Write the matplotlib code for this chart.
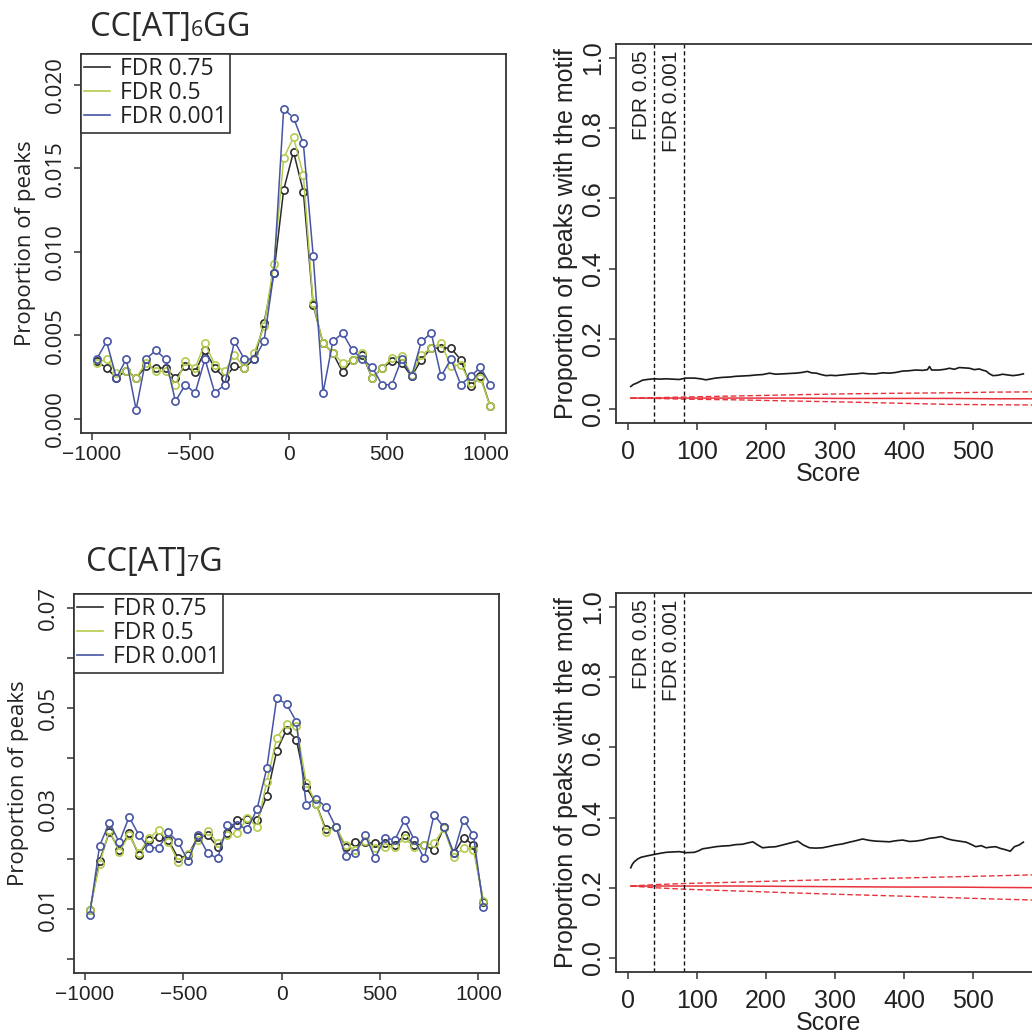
import matplotlib
matplotlib.use("Agg")
import matplotlib.pyplot as plt
import numpy as np
from matplotlib.ticker import FixedLocator, FixedFormatter

W, H = 1032, 1036

# bin centres of the peak-position profiles
positions = [-975, -925, -875, -825, -775, -725, -675, -625, -575, -525,
             -475, -425, -375, -325, -275, -225, -175, -125, -75, -25,
             25, 75, 125, 175, 225, 275, 325, 375, 425, 475,
             525, 575, 625, 675, 725, 775, 825, 875, 925, 975, 1025]

# CC[AT]6GG profiles
top_fdr075 = [0.00345, 0.00305, 0.00245, 0.0029, 0.00245, 0.00315, 0.00305, 0.00305, 0.00245, 0.00315,
              0.0028, 0.0041, 0.00305, 0.00245, 0.00315, 0.00305, 0.00359, 0.00574, 0.00872, 0.0137,
              0.016, 0.0136, 0.00683, 0.00454, 0.00394, 0.0028, 0.00355, 0.00384, 0.00245, 0.00305,
              0.00345, 0.00335, 0.00255, 0.00355, 0.00424, 0.00424, 0.00424, 0.00355, 0.00195, 0.00255, 0.00076]
top_fdr05 = [0.00335, 0.00359, 0.00275, 0.00285, 0.00245, 0.00335, 0.00285, 0.00285, 0.00205, 0.00345,
             0.00305, 0.00454, 0.00325, 0.00285, 0.00384, 0.00305, 0.00394, 0.00554, 0.00928, 0.0156,
             0.01685, 0.0146, 0.00693, 0.00454, 0.00394, 0.00335, 0.00355, 0.00394, 0.00245, 0.00305,
             0.00364, 0.00374, 0.00265, 0.00384, 0.00424, 0.00454, 0.00315, 0.00325, 0.00215, 0.00245, 0.00076]
top_fdr0001 = [0.00359, 0.00464, 0.00245, 0.00359, 0.00056, 0.00359, 0.0041, 0.00359, 0.00106, 0.00205,
               0.00155, 0.00359, 0.00155, 0.00205, 0.00464, 0.00359, 0.00359, 0.00464, 0.00872, 0.01855,
               0.01803, 0.0165, 0.00978, 0.00155, 0.00464, 0.00514, 0.0041, 0.00359, 0.00309, 0.00205,
               0.00205, 0.00359, 0.00255, 0.00464, 0.00514, 0.00255, 0.00359, 0.00205, 0.00255, 0.00309, 0.00205]

# CC[AT]7G profiles
bot_fdr075 = [0.00967, 0.0196, 0.02536, 0.02172, 0.02503, 0.02073, 0.02371, 0.02437, 0.02371, 0.02007,
              0.02073, 0.02437, 0.0247, 0.02238, 0.02503, 0.02768, 0.02801, 0.02768, 0.03252, 0.04146,
              0.04576, 0.04377, 0.0343, 0.03099, 0.02583, 0.02636, 0.02238, 0.02325, 0.02325, 0.02305,
              0.02305, 0.02272, 0.0247, 0.02272, 0.02272, 0.02172, 0.02623, 0.02106, 0.02417, 0.02272, 0.01146]
bot_fdr05 = [0.00967, 0.01894, 0.0257, 0.02139, 0.0247, 0.02106, 0.02404, 0.0257, 0.02338, 0.0194,
             0.02086, 0.02371, 0.02556, 0.02305, 0.0247, 0.02503, 0.02815, 0.02636, 0.0353, 0.04404,
             0.04689, 0.04656, 0.03517, 0.03099, 0.02536, 0.02636, 0.02272, 0.02172, 0.02358, 0.02205,
             0.02238, 0.02238, 0.02404, 0.02238, 0.02272, 0.02305, 0.02603, 0.0204, 0.02219, 0.02172, 0.01166]
bot_fdr0001 = [0.00881, 0.02258, 0.02722, 0.02325, 0.02834, 0.0247, 0.02219, 0.02219, 0.02523, 0.02325,
               0.01954, 0.0247, 0.02106, 0.02007, 0.02682, 0.02682, 0.02583, 0.02987, 0.03808, 0.05199,
               0.05086, 0.04735, 0.0308, 0.03199, 0.03033, 0.02636, 0.0206, 0.02106, 0.0247, 0.02007,
               0.02417, 0.02371, 0.02768, 0.02371, 0.02007, 0.02881, 0.02623, 0.02106, 0.02781, 0.0247, 0.01033]

# proportion of peaks with the motif vs score
top_score = [4, 8, 12, 17, 21, 28, 38, 46, 55, 64, 74, 84, 96, 105, 113, 127, 137, 147, 156, 166,
             176, 186, 195, 205, 214, 224, 233, 243, 252, 260, 266, 273, 280, 287, 294, 301, 311, 321,
             330, 340, 350, 359, 369, 379, 388, 398, 408, 417, 427, 434, 437, 440, 451, 459, 466, 473,
             480, 488, 495, 502, 509, 515, 519, 524, 529, 536, 543, 550, 558, 566, 573]
top_motif = [0.064, 0.07, 0.073, 0.078, 0.082, 0.084, 0.086, 0.085, 0.086, 0.085, 0.084, 0.088, 0.088,
             0.086, 0.083, 0.088, 0.09, 0.091, 0.093, 0.094, 0.095, 0.097, 0.098, 0.102, 0.099, 0.1,
             0.101, 0.102, 0.104, 0.107, 0.103, 0.102, 0.098, 0.095, 0.096, 0.095, 0.097, 0.099, 0.1,
             0.102, 0.1, 0.1, 0.103, 0.102, 0.104, 0.108, 0.109, 0.111, 0.11, 0.112, 0.121, 0.111, 0.111,
             0.113, 0.116, 0.113, 0.118, 0.117, 0.116, 0.112, 0.114, 0.11, 0.108, 0.1, 0.095, 0.096, 0.099,
             0.097, 0.095, 0.097, 0.1]
bot_score = [4, 6, 9, 14, 19, 28, 38, 46, 55, 64, 74, 84, 96, 102, 108, 118, 127, 137, 147, 156, 166,
             174, 181, 188, 195, 205, 214, 224, 234, 240, 246, 254, 263, 272, 282, 292, 301, 311, 321,
             330, 340, 350, 359, 369, 379, 388, 398, 408, 417, 427, 437, 446, 454, 462, 470, 480, 490,
             497, 504, 512, 519, 526, 533, 540, 548, 554, 560, 567, 573]
bot_motif = [0.257, 0.266, 0.274, 0.282, 0.287, 0.291, 0.295, 0.298, 0.301, 0.302, 0.303, 0.3, 0.301,
             0.305, 0.311, 0.314, 0.317, 0.319, 0.32, 0.323, 0.324, 0.328, 0.331, 0.322, 0.314, 0.316,
             0.317, 0.322, 0.327, 0.33, 0.333, 0.322, 0.314, 0.313, 0.314, 0.318, 0.322, 0.325, 0.33,
             0.334, 0.339, 0.335, 0.333, 0.332, 0.331, 0.334, 0.336, 0.332, 0.333, 0.336, 0.341, 0.343,
             0.346, 0.34, 0.336, 0.333, 0.33, 0.324, 0.317, 0.32, 0.314, 0.316, 0.317, 0.312, 0.308,
             0.304, 0.317, 0.322, 0.33]

# background expectation (mean and band)
bg_score = [4, 40, 80, 157, 230, 311, 400, 466, 530, 610]
top_bg_mid = [0.031, 0.031, 0.031, 0.031, 0.031, 0.030, 0.030, 0.030, 0.029, 0.029]
top_bg_hi = [0.031, 0.032, 0.034, 0.037, 0.040, 0.043, 0.045, 0.046, 0.048, 0.049]
top_bg_lo = [0.031, 0.030, 0.028, 0.026, 0.023, 0.020, 0.016, 0.013, 0.012, 0.011]
bot_bg_mid = [0.205, 0.205, 0.205, 0.205, 0.204, 0.203, 0.202, 0.202, 0.201, 0.200]
bot_bg_hi = [0.205, 0.209, 0.212, 0.216, 0.220, 0.224, 0.228, 0.231, 0.234, 0.238]
bot_bg_lo = [0.205, 0.200, 0.196, 0.191, 0.186, 0.181, 0.176, 0.172, 0.168, 0.164]

fdr_cut_scores = [37.6, 81]
fdr_cut_labels = ["FDR 0.05", "FDR 0.001"]

series_labels = ["FDR 0.75", "FDR 0.5", "FDR 0.001"]
series_colors = ["#2b2b2b", "#b4cc4c", "#4654a4"]

HUMANIST = ["Open Sans", "DejaVu Sans"]
ARIAL = ["Liberation Sans", "DejaVu Sans"]
AXIS_COLOR = "#333333"
MARKER_GAP = 4.2  # px left free around each circle, as in R's type="b"

fig = plt.figure(figsize=(W / 100, H / 100), dpi=100)


def px_axes(x0, y0, x1, y1):
    return fig.add_axes([x0 / W, 1 - y1 / H, (x1 - x0) / W, (y1 - y0) / H])


def style_box(axis):
    for spine in axis.spines.values():
        spine.set_color(AXIS_COLOR)
        spine.set_linewidth(1.3)
    axis.tick_params(direction="out", length=5, width=1.1, color=AXIS_COLOR,
                     labelcolor="#222222")


def gapped_line(axis, xs, ys, color):
    # segments between points, cut back so they stop short of the circles
    pts = axis.transData.transform(np.column_stack([xs, ys]))
    seg_x, seg_y = [], []
    for p, q in zip(pts[:-1], pts[1:]):
        d = q - p
        length = np.hypot(*d)
        if length <= 2 * MARKER_GAP:
            continue
        u = d / length
        a, b = axis.transData.inverted().transform(
            [p + u * MARKER_GAP, q - u * MARKER_GAP])
        seg_x += [a[0], b[0], np.nan]
        seg_y += [a[1], b[1], np.nan]
    axis.plot(seg_x, seg_y, color=color, lw=1.1)


def profile_panel(axis, series, yticks, ylabels, ylim):
    axis.set_xlim(-1055, 1105)
    axis.set_ylim(-0.04 * ylim, 1.04 * ylim)
    for values, color in zip(series, series_colors):
        gapped_line(axis, positions, values, color)
        axis.plot(positions, values, ls="none", marker="o", ms=5.2,
                  mfc="none", mec=color, mew=1.2)
    axis.xaxis.set_major_locator(FixedLocator([-1000, -500, 0, 500, 1000]))
    axis.yaxis.set_major_locator(FixedLocator(yticks))
    axis.yaxis.set_major_formatter(FixedFormatter(ylabels))
    style_box(axis)
    for tick in axis.get_xticklabels():
        tick.set_fontfamily(ARIAL)
        tick.set_fontsize(15)
    for tick in axis.get_yticklabels():
        tick.set_fontfamily(HUMANIST)
        tick.set_fontsize(16)
        tick.set_rotation(90)
        tick.set_va("center")
    axis.tick_params(axis="x", pad=4)
    axis.tick_params(axis="y", pad=6)
    axis.set_ylabel("Proportion of peaks", fontfamily=HUMANIST, fontsize=16,
                    color="#222222", labelpad=6)
    handles = [plt.Line2D([], [], color=c, lw=1.2) for c in series_colors]
    legend = axis.legend(handles, series_labels, loc="upper left",
                         bbox_to_anchor=(0, 1), borderaxespad=0, fancybox=False,
                         prop={"family": HUMANIST, "size": 16.5},
                         handlelength=1.1, handletextpad=0.45, labelspacing=0.0,
                         borderpad=0.15, framealpha=1)
    legend.get_frame().set_edgecolor(AXIS_COLOR)
    legend.get_frame().set_linewidth(1.2)
    for text in legend.get_texts():
        text.set_color("#222222")


def motif_panel(axis, motif_x, motif_y, bg_mid, bg_hi, bg_lo):
    axis.plot(motif_x, motif_y, color="#1a1a1a", lw=1.2)
    axis.plot(bg_score, bg_mid, color="#e8323c", lw=1.1)
    axis.plot(bg_score, bg_hi, color="#e8323c", lw=1.0, dashes=(4, 2))
    axis.plot(bg_score, bg_lo, color="#e8323c", lw=1.0, dashes=(4, 2))
    for cut, label in zip(fdr_cut_scores, fdr_cut_labels):
        axis.axvline(cut, color="#111111", lw=1.0, dashes=(3, 2))
        axis.text(cut - 17.5, 1.022, label, rotation=90, ha="center", va="top",
                  fontfamily=ARIAL, fontsize=15, color="#222222")
    axis.set_xlim(-17.4, 598.6)
    axis.set_ylim(-0.04, 1.04)
    axis.xaxis.set_major_locator(FixedLocator([0, 100, 200, 300, 400, 500, 600]))
    axis.yaxis.set_major_locator(FixedLocator([0.0, 0.2, 0.4, 0.6, 0.8, 1.0]))
    axis.yaxis.set_major_formatter(FixedFormatter(["0.0", "0.2", "0.4", "0.6", "0.8", "1.0"]))
    style_box(axis)
    for tick in axis.get_xticklabels() + axis.get_yticklabels():
        tick.set_fontfamily(ARIAL)
        tick.set_fontsize(18)
    for tick in axis.get_yticklabels():
        tick.set_rotation(90)
        tick.set_va("center")
    axis.tick_params(axis="x", pad=7)
    axis.tick_params(axis="y", pad=3)
    axis.set_xlabel("Score", fontfamily=ARIAL, fontsize=18, color="#222222", labelpad=-1)
    axis.set_ylabel("Proportion of peaks with the motif", fontfamily=ARIAL,
                    fontsize=18, color="#222222", labelpad=2)


ax_tl = px_axes(81, 54, 506, 433)
profile_panel(ax_tl, [top_fdr075, top_fdr05, top_fdr0001],
              [0.0, 0.005, 0.010, 0.015, 0.020],
              ["0.000", "0.005", "0.010", "0.015", "0.020"], 0.021)

ax_bl = px_axes(74, 594, 499, 973)
profile_panel(ax_bl, [bot_fdr075, bot_fdr05, bot_fdr0001],
              [0.0, 0.01, 0.02, 0.03, 0.04, 0.05, 0.06, 0.07],
              ["", "0.01", "", "0.03", "", "0.05", "", "0.07"], 0.07)

ax_tr = px_axes(616, 44, 1041, 423)
motif_panel(ax_tr, top_score, top_motif, top_bg_mid, top_bg_hi, top_bg_lo)

ax_br = px_axes(616, 593, 1041, 972)
motif_panel(ax_br, bot_score, bot_motif, bot_bg_mid, bot_bg_hi, bot_bg_lo)

# motif titles with a small repeat count sitting on the baseline
renderer = fig.canvas.get_renderer()


def motif_title(x_px, baseline_px, parts):
    x = x_px
    for text, size in parts:
        t = fig.text(x / W, 1 - baseline_px / H, text, fontfamily=HUMANIST,
                     fontsize=size, color="#2a2a2a", ha="left", va="baseline")
        x = t.get_window_extent(renderer).x1


motif_title(90, 36, [("CC[AT]", 23.5), ("6", 15.5), ("GG", 23.5)])
motif_title(86, 571, [("CC[AT]", 23.5), ("7", 15.5), ("G", 23.5)])

fig.savefig("out.png", dpi=100)
